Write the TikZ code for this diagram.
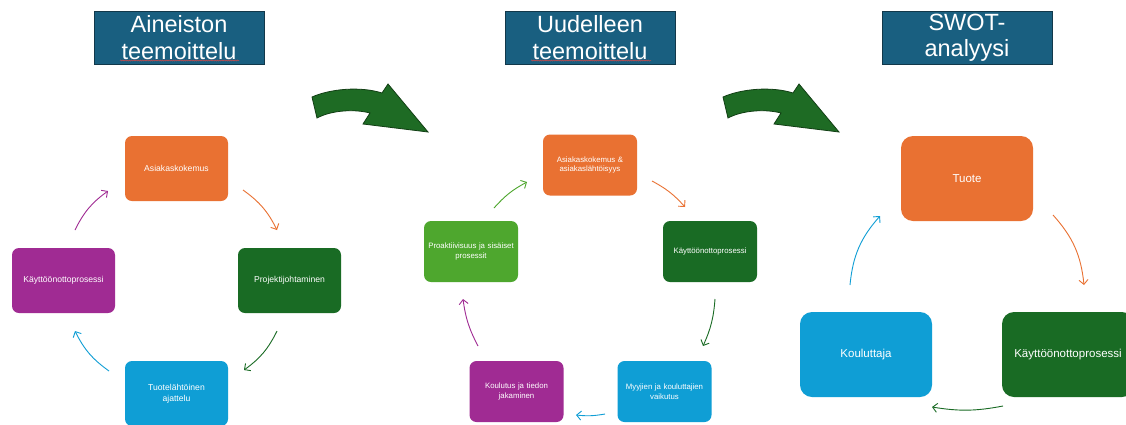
\documentclass[tikz,border=0pt]{standalone}
\usepackage{fontspec}
\setmainfont{Liberation Sans}
\usetikzlibrary{arrows.meta,decorations.pathmorphing}
\definecolor{orng}{HTML}{E97132}
\definecolor{dgrn}{HTML}{196B24}
\definecolor{lblu}{HTML}{0F9ED5}
\definecolor{purp}{HTML}{A02B93}
\definecolor{lgrn}{HTML}{4EA72E}
\definecolor{ttlfill}{HTML}{195F80}
\definecolor{ttledge}{HTML}{12384A}
\definecolor{bigarr}{HTML}{1E6B24}
\definecolor{bigedge}{HTML}{123F15}
\definecolor{spell}{HTML}{D04848}
\tikzset{
  ttl/.style={draw=ttledge, line width=1pt, fill=ttlfill, text=white, minimum width=170pt, minimum height=53pt, inner sep=0pt, align=center, font=\fontsize{23.5}{26.5}\selectfont},
  boxa/.style={rounded corners=7pt, text=white, minimum width=103pt, minimum height=65pt, inner sep=2pt, align=center, font=\fontsize{8.6}{11}\selectfont},
  boxb/.style={rounded corners=7pt, text=white, minimum width=94pt, minimum height=61pt, inner sep=2pt, text width=88pt, align=center, font=\fontsize{7.8}{9.5}\selectfont},
  boxc/.style={rounded corners=12pt, text=white, minimum width=132pt, minimum height=85pt, inner sep=2pt, align=center, font=\fontsize{11.5}{14}\selectfont},
  cyc/.style={line width=0.9pt, -{Straight Barb[length=4.5pt,width=9pt]}},
  bigarrow/.style={fill=bigarr, draw=bigedge, line width=0.8pt, line join=miter},
  squiggle/.style={draw=spell, line width=0.5pt, decorate, decoration={snake, amplitude=0.6pt, segment length=2.2pt}}
}
\begin{document}
\begin{tikzpicture}[x=1pt,y=-1pt]
\useasboundingbox (0,0) rectangle (1126,424);
\clip (0,0) rectangle (1126,424);
\fill[white] (0,0) rectangle (1126,424);

% titles
\node[ttl] (t1) at (179,37.5) {Aineiston\\teemoittelu};
\node[ttl] (t2) at (590,37.5) {Uudelleen\\teemoittelu};
\node[ttl] (t3) at (967,37.5) {SWOT-\\analyysi};
\coordinate (s1a) at (120,60.5);
\coordinate (s1b) at (239,60.5);
\coordinate (s2a) at (531,60.5);
\coordinate (s2b) at (651,60.5);
\path[squiggle] (s1a) -- (s1b);
\path[squiggle] (s2a) -- (s2b);

% big curved arrows
\foreach \dx/\nm in {0/ba, 411/bb}{
\begin{scope}[xshift=\dx]
\path[bigarrow] (312,97) .. controls (330,89) and (360,86) .. (382,93)
  -- (388,84) -- (428,132) -- (363,124) -- (370,113)
  .. controls (355,109) and (332,110) .. (317,118) -- cycle;
\end{scope}
}

% left cycle
\node[boxa, fill=orng] (l1) at (176.5,168.5) {Asiakaskokemus};
\node[boxa, fill=dgrn] (l2) at (289.5,280.5) {Projektijohtaminen};
\node[boxa, fill=lblu] (l3) at (176.5,393.5) {Tuotelähtöinen\\ajattelu};
\node[boxa, fill=purp] (l4) at (63.5,280.5) {Käyttöönottoprosessi};
\coordinate (a1s) at (243,190); \coordinate (a1e) at (277,230);
\coordinate (a2s) at (277,331); \coordinate (a2e) at (244,370);
\coordinate (a3s) at (109,371); \coordinate (a3e) at (75,331);
\coordinate (a4s) at (75,230);  \coordinate (a4e) at (108,191);
\draw[cyc, orng] (a1s) to[bend left=14] (a1e);
\draw[cyc, dgrn] (a2s) to[bend left=14] (a2e);
\draw[cyc, lblu] (a3s) to[bend left=14] (a3e);
\draw[cyc, purp] (a4s) to[bend left=14] (a4e);

% middle cycle
\node[boxb, fill=orng] (m1) at (590,165) {Asiakaskokemus \&\\asiakaslähtöisyys};
\node[boxb, fill=dgrn] (m2) at (710,251.5) {Käyttöönottoprosessi};
\node[boxb, fill=lblu] (m3) at (664.5,391.5) {Myyjien ja kouluttajien\\vaikutus};
\node[boxb, fill=purp] (m4) at (516.5,391.5) {Koulutus ja tiedon\\jakaminen};
\node[boxb, fill=lgrn] (m5) at (471,251.5) {Proaktiivisuus ja sisäiset\\prosessit};
\coordinate (b1s) at (652,181); \coordinate (b1e) at (685,207);
\coordinate (b2s) at (715,299); \coordinate (b2e) at (703,346);
\coordinate (b3s) at (605,414); \coordinate (b3e) at (576,415);
\coordinate (b4s) at (478,346); \coordinate (b4e) at (463,299);
\coordinate (b5s) at (494,208); \coordinate (b5e) at (527,182);
\draw[cyc, orng] (b1s) to[bend left=10] (b1e);
\draw[cyc, dgrn] (b2s) to[bend left=10] (b2e);
\draw[cyc, lblu] (b3s) to[bend left=8] (b3e);
\draw[cyc, purp] (b4s) to[bend left=10] (b4e);
\draw[cyc, lgrn] (b5s) to[bend left=10] (b5e);

% right cycle
\node[boxc, fill=orng] (r1) at (967,178.5) {Tuote};
\node[boxc, fill=dgrn] (r2) at (1068,354.5) {Käyttöönottoprosessi};
\node[boxc, fill=lblu] (r3) at (866,354.5) {Kouluttaja};
\coordinate (c1s) at (1053,215); \coordinate (c1e) at (1084,285);
\coordinate (c2s) at (1003,406); \coordinate (c2e) at (932,407);
\coordinate (c3s) at (850,285);  \coordinate (c3e) at (880,216);
\draw[cyc, orng] (c1s) to[bend left=18] (c1e);
\draw[cyc, dgrn] (c2s) to[bend left=10] (c2e);
\draw[cyc, lblu] (c3s) to[bend left=18] (c3e);
\end{tikzpicture}
\end{document}
